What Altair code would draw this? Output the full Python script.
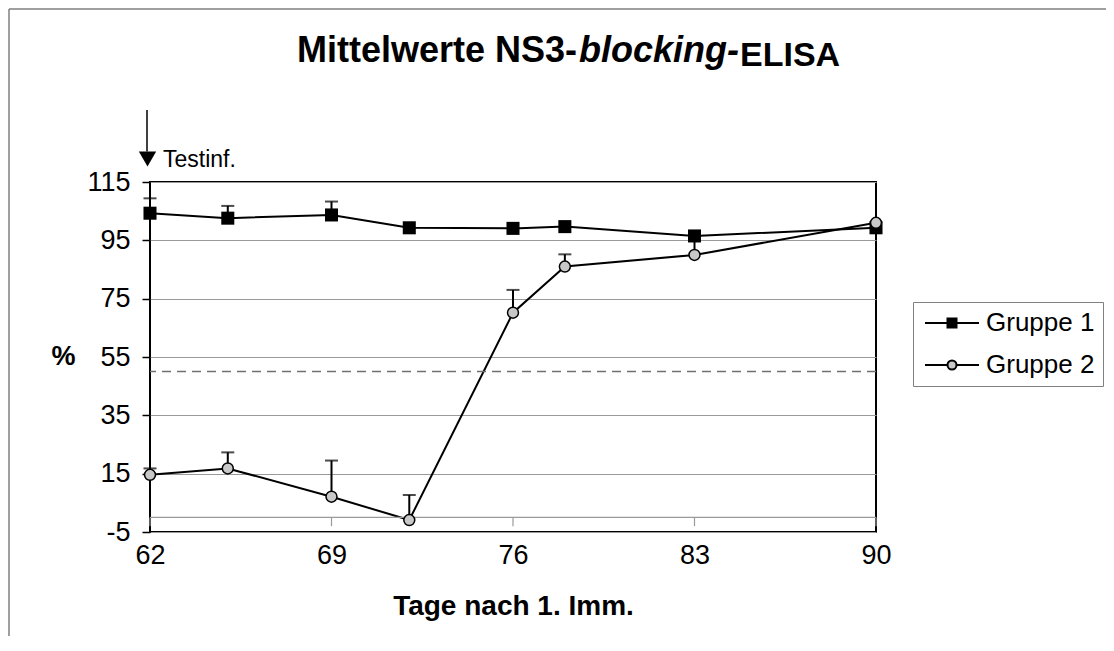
import altair as alt
import pandas as pd

# ---- data ----
days = [62, 65, 69, 72, 76, 78, 83, 90]
gruppe1 = [104.3, 102.6, 103.7, 99.3, 99.1, 99.7, 96.5, 99.3]
gruppe1_err = [5.1, 4.2, 4.6, 0, 0, 0, 0, 0]
gruppe2 = [14.6, 16.8, 7.1, -0.9, 70.2, 86.0, 90.0, 101.0]
gruppe2_err = [2.2, 5.5, 12.4, 8.6, 7.8, 4.2, 6.5, 0]
groups = ["Gruppe 1", "Gruppe 2"]

x_ticks = [62, 69, 76, 83, 90]
y_ticks = [-5, 15, 35, 55, 75, 95, 115]
cutoff = [50]
zero_line = [0]
testinf_day = [62]
annotation = ["Testinf."]
title_parts = ["Mittelwerte NS3-", "blocking-", "ELISA"]
x_title = "Tage nach 1. Imm."
y_title = "%"

FONT = "Liberation Sans"

rows = []
for g, vals, errs in [(groups[0], gruppe1, gruppe1_err), (groups[1], gruppe2, gruppe2_err)]:
    for d, v, e in zip(days, vals, errs):
        rows.append({"day": d, "value": v, "err": e, "top": v + e, "group": g})
df = pd.DataFrame(rows)
df_err = df[df["err"] > 0]
df_g1 = df[df["group"] == groups[0]]
df_g2 = df[df["group"] == groups[1]]
one = pd.DataFrame({"k": [0]})
ticks_df = pd.DataFrame({"day": x_ticks})
ann_df = pd.DataFrame({"day": testinf_day, "label": annotation})

W, H = 726, 350
TOTAL_W, TOTAL_H = 1098, 628
PAD = {"left": 142, "top": 174, "right": TOTAL_W - 142 - W, "bottom": TOTAL_H - 174 - H}

xs = alt.Scale(domain=[62, 90], nice=False, zero=False)
ys = alt.Scale(domain=[-5, 115], nice=False, zero=False)

x_main = alt.X(
    "day:Q", scale=xs, title=x_title,
    axis=alt.Axis(values=x_ticks, ticks=False, tickSize=0, domain=False, grid=False, labelFlush=False,
                  labelFontSize=27, labelFont=FONT, labelColor="black", labelPadding=10,
                  titleFontSize=28, titleFont=FONT, titleFontWeight="bold", titleColor="black",
                  titlePadding=24),
)
y_main = alt.Y(
    "value:Q", scale=ys, title=y_title,
    axis=alt.Axis(values=y_ticks, grid=True, gridColor="#9a9a9a", gridWidth=1.2,
                  ticks=True, tickSize=8, tickColor="black", tickWidth=1.5, domain=False,
                  labelExpr="'' + datum.value", labelFlush=False,
                  labelFontSize=27, labelFont=FONT, labelColor="black", labelPadding=12,
                  titleAngle=0, titleX=-87, titleY=174, titleAlign="center",
                  titleBaseline="middle", titleFontSize=27, titleFont=FONT,
                  titleFontWeight="bold", titleColor="black"),
)
x_plain = alt.X("day:Q", scale=xs, title=x_title)
y_plain = alt.Y("value:Q", scale=ys, title=y_title)

# frame of the chart area (left and top edges)
frame_left = alt.Chart(one).mark_rule(color="#7f7f7f", strokeWidth=1.5).encode(
    x=alt.value(-141), y=alt.value(-173), y2=alt.value(TOTAL_H - 174))
frame_top = alt.Chart(one).mark_rule(color="#7f7f7f", strokeWidth=1.5).encode(
    x=alt.value(-141), x2=alt.value(TOTAL_W - 142), y=alt.value(-173))

lines = alt.Chart(df).mark_line(color="black", strokeWidth=2).encode(
    x=x_main, y=y_main, detail="group:N")

zero_rule = alt.Chart(pd.DataFrame({"value": zero_line})).mark_rule(
    color="#9a9a9a", strokeWidth=1.2).encode(y=y_plain)
zero_ticks = alt.Chart(ticks_df).mark_rule(color="#9a9a9a", strokeWidth=1.2).encode(
    x=x_plain, y=alt.Y(datum=0, scale=ys, title=y_title), y2=alt.Y2(datum=-3))
cut_rule = alt.Chart(pd.DataFrame({"value": cutoff})).mark_rule(
    color="#707070", strokeWidth=1.5, strokeDash=[9, 6]).encode(y=y_plain)

err_rules = alt.Chart(df_err).mark_rule(color="black", strokeWidth=2).encode(
    x=x_plain, y=y_plain, y2="top:Q")
err_caps = alt.Chart(df_err).mark_tick(orient="horizontal", color="black", size=13, thickness=2).encode(
    x=x_plain, y=alt.Y("top:Q", scale=ys, title=y_title))

squares = alt.Chart(df_g1).mark_point(shape="square", filled=True, fill="black", color="black",
                                      size=170, opacity=1).encode(x=x_plain, y=y_plain)
circles = alt.Chart(df_g2).mark_point(shape="circle", filled=False, fill="#c8c8c8", stroke="black",
                                      strokeWidth=1.5, size=120, opacity=1).encode(x=x_plain, y=y_plain)

path_sq = "M-2.7,0H-0.45M0.45,0H2.7M-0.45,-0.45H0.45V0.45H-0.45Z"
path_ci = "M-2.7,0H-0.45M0.45,0H2.7M0.45,0A0.45,0.45,0,1,1,-0.45,0A0.45,0.45,0,1,1,0.45,0Z"
leg = alt.Legend(title=None, orient="none", legendX=763, legendY=120, strokeColor="#808080",
                 fillColor="white", padding=8, labelFontSize=26, labelFont=FONT, labelColor="black",
                 symbolSize=400, symbolStrokeWidth=2, symbolStrokeColor="black", symbolOffset=18,
                 labelOffset=21, rowPadding=16, symbolOpacity=1)
legend_layer = alt.Chart(df).mark_point(opacity=0, strokeWidth=2).encode(
    x=x_plain, y=y_plain,
    shape=alt.Shape("group:N", scale=alt.Scale(domain=groups, range=[path_sq, path_ci]), legend=leg),
    fill=alt.Fill("group:N", scale=alt.Scale(domain=groups, range=["black", "#c8c8c8"]), legend=leg),
    stroke=alt.Stroke("group:N", scale=alt.Scale(domain=groups, range=["black", "black"]), legend=leg),
)

arrow_line = alt.Chart(ann_df).mark_rule(color="black", strokeWidth=1.5, xOffset=-3).encode(
    x=x_plain, y=alt.Y(datum=139.7, scale=ys, title=y_title), y2=alt.Y2(datum=125.5))
arrow_head = alt.Chart(ann_df).mark_point(shape="triangle-down", filled=True, color="black",
                                          size=300, opacity=1, xOffset=-2.5).encode(
    x=x_plain, y=alt.Y(datum=122.9, scale=ys, title=y_title))
arrow_text = alt.Chart(ann_df).mark_text(align="left", baseline="alphabetic", dx=13, font=FONT,
                                         fontSize=23, color="black").encode(
    x=x_plain, y=alt.Y(datum=120.1, scale=ys, title=y_title), text="label:N")

tdf = pd.DataFrame({"t": title_parts})
t1 = alt.Chart(tdf.iloc[[0]]).mark_text(align="right", baseline="alphabetic", font=FONT, fontSize=36,
                                        fontWeight="bold", color="black").encode(
    x=alt.value(427), y=alt.value(-120), text="t:N")
t2 = alt.Chart(tdf.iloc[[1]]).mark_text(align="left", baseline="alphabetic", font=FONT, fontSize=36,
                                        fontWeight="bold", fontStyle="italic", color="black").encode(
    x=alt.value(429), y=alt.value(-120), text="t:N")
t3 = alt.Chart(tdf.iloc[[2]]).mark_text(align="left", baseline="alphabetic", font=FONT, fontSize=34,
                                        fontWeight="bold", color="black").encode(
    x=alt.value(590), y=alt.value(-116), text="t:N")

chart = alt.layer(
    lines, frame_left, frame_top, zero_rule, zero_ticks, cut_rule, err_rules, err_caps,
    legend_layer, squares, circles, arrow_line, arrow_head, arrow_text, t1, t2, t3,
).properties(
    width=W, height=H,
    autosize=alt.AutoSizeParams(type="none"),
    padding=PAD,
    background="white",
).configure(
    font=FONT,
    view=alt.ViewConfig(stroke="black", strokeWidth=2),
)

chart.save("out.html", embed_options={"renderer": "svg", "actions": False})
